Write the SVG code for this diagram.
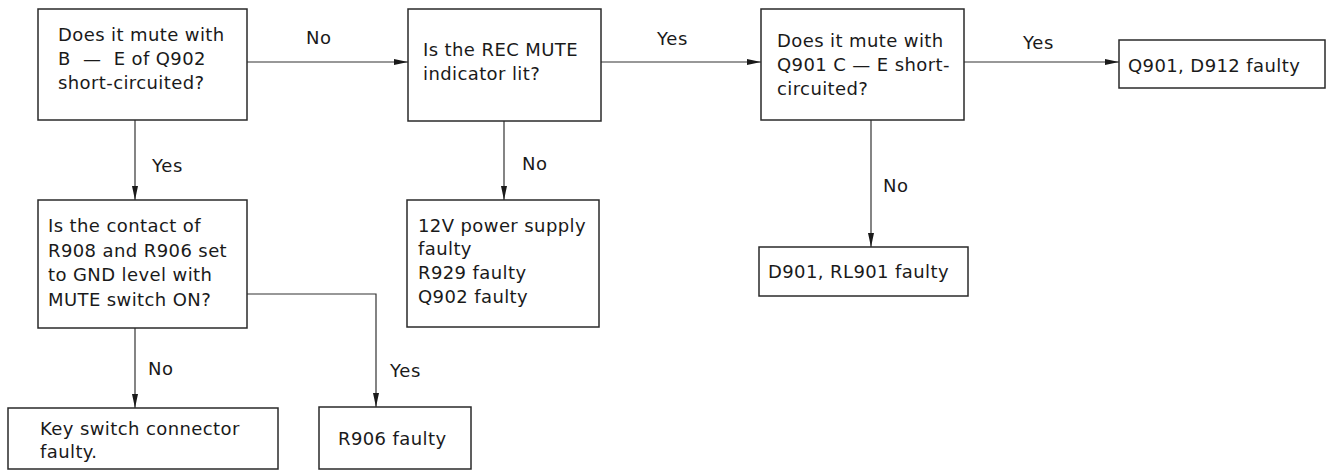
<svg xmlns="http://www.w3.org/2000/svg" width="1336" height="471" viewBox="0 0 1336 471">
<style>
.box{fill:#fff;stroke:#2a2a2a;stroke-width:1.5}
.t{font-family:"DejaVu Sans","Liberation Sans",sans-serif;font-size:18px;fill:#1a1a1a;letter-spacing:0.4px}
.lbl{font-family:"DejaVu Sans","Liberation Sans",sans-serif;font-size:18px;fill:#1a1a1a;letter-spacing:0.6px}
.c{fill:none;stroke:#333;stroke-width:1.2}
</style>
<defs>
<marker id="ah" viewBox="0 0 14 6" refX="14" refY="3" markerWidth="14" markerHeight="6" markerUnits="userSpaceOnUse" orient="auto">
<path d="M0,0 L14,3 L0,6 Z" fill="#1a1a1a"/>
</marker>
</defs>
<rect width="1336" height="471" fill="#fff"/>
<g id="connectors">
<line class="c" x1="247" y1="62" x2="408" y2="62" marker-end="url(#ah)"/>
<line class="c" x1="601" y1="62" x2="761" y2="62" marker-end="url(#ah)"/>
<line class="c" x1="964" y1="62" x2="1119" y2="62" marker-end="url(#ah)"/>
<line class="c" x1="135" y1="120" x2="135" y2="200" marker-end="url(#ah)"/>
<line class="c" x1="504" y1="121" x2="504" y2="200" marker-end="url(#ah)"/>
<line class="c" x1="871" y1="120" x2="871" y2="247" marker-end="url(#ah)"/>
<line class="c" x1="135" y1="328" x2="135" y2="408" marker-end="url(#ah)"/>
<path class="c" d="M247,294 H376 V407" marker-end="url(#ah)"/>
<text class="lbl" x="306" y="44">No</text>
<text class="lbl" x="657" y="45">Yes</text>
<text class="lbl" x="1023" y="49">Yes</text>
<text class="lbl" x="152" y="172">Yes</text>
<text class="lbl" x="522" y="170">No</text>
<text class="lbl" x="883" y="192">No</text>
<text class="lbl" x="148" y="375">No</text>
<text class="lbl" x="390" y="377" letter-spacing="1.5">Yes</text>
</g>
<g id="q1">
<rect class="box" x="38" y="9" width="209" height="111"/>
<text class="t" x="58" y="41">Does it mute with</text>
<text class="t" x="58" y="65" xml:space="preserve">B  —  E of Q902</text>
<text class="t" x="58" y="89">short-circuited?</text>
</g>
<g id="q2">
<rect class="box" x="408" y="9" width="193" height="112"/>
<text class="t" x="423" y="56">Is the REC MUTE</text>
<text class="t" x="423" y="80">indicator lit?</text>
</g>
<g id="q3">
<rect class="box" x="761" y="9" width="203" height="111"/>
<text class="t" x="777" y="47">Does it mute with</text>
<text class="t" x="777" y="71" xml:space="preserve">Q901 C — E short-</text>
<text class="t" x="777" y="95">circuited?</text>
</g>
<g id="r4">
<rect class="box" x="1119" y="40" width="206" height="48"/>
<text class="t" x="1128" y="72">Q901, D912 faulty</text>
</g>
<g id="q5">
<rect class="box" x="38" y="200" width="209" height="128"/>
<text class="t" x="48" y="232">Is the contact of</text>
<text class="t" x="48" y="257">R908 and R906 set</text>
<text class="t" x="48" y="281">to GND level with</text>
<text class="t" x="48" y="306">MUTE switch ON?</text>
</g>
<g id="r8">
<rect class="box" x="407" y="200" width="192" height="127"/>
<text class="t" x="418" y="232">12V power supply</text>
<text class="t" x="418" y="255">faulty</text>
<text class="t" x="418" y="279">R929 faulty</text>
<text class="t" x="418" y="303">Q902 faulty</text>
</g>
<g id="r9">
<rect class="box" x="759" y="247" width="209" height="49"/>
<text class="t" x="768" y="278">D901, RL901 faulty</text>
</g>
<g id="r6">
<rect class="box" x="8" y="408" width="270" height="61"/>
<text class="t" x="40" y="435">Key switch connector</text>
<text class="t" x="40" y="458">faulty.</text>
</g>
<g id="r7">
<rect class="box" x="319" y="407" width="152" height="62"/>
<text class="t" x="338" y="445">R906 faulty</text>
</g>
</svg>
